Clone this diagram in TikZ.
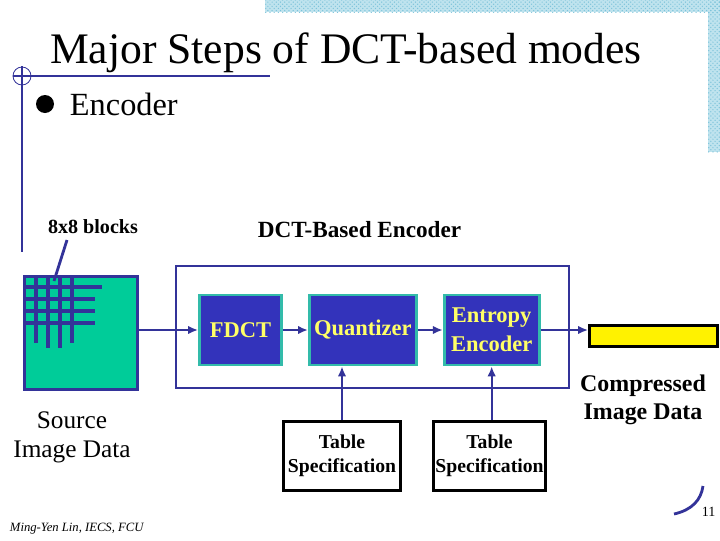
\documentclass[tikz,border=0pt]{standalone}
\usepackage{fontspec}
\setmainfont{Liberation Serif}
\usepackage{xcolor}
\usepackage{tikz}
\usetikzlibrary{positioning, arrows.meta, patterns}
\definecolor{slblue}{HTML}{333399}
\definecolor{slfill}{HTML}{3333BB}
\definecolor{slteal}{HTML}{33BBAA}
\definecolor{srcfill}{HTML}{00CC99}
\definecolor{slyellow}{HTML}{FFFF66}
\definecolor{hatchbg}{HTML}{BFE3EE}
\definecolor{hatchdot}{HTML}{7DC3DA}

\begin{document}
\begin{tikzpicture}[
  x=0.025cm, y=-0.025cm,
  stage/.style={
    rectangle, draw=slteal, fill=slfill, line width=2pt,
    text=slyellow, font=\fontsize{16}{20.5}\selectfont\bfseries,
    minimum width=#1, minimum height=1.75cm, align=center, inner sep=1pt
  },
  tabspec/.style={
    rectangle, draw=black, line width=2pt, minimum width=#1,
    minimum height=1.725cm, align=center, inner sep=1pt,
    font=\fontsize{14}{17}\selectfont\bfseries
  },
  conn/.style={slblue, line width=1.4pt, -{Latex[length=7pt,width=6pt]}},
  gridln/.style={slblue, line width=3pt},
]
\useasboundingbox (0,0) rectangle (720,540);

% slide frame
\fill[hatchbg] (265,0) rectangle (720,12);
\fill[hatchbg] (708,0) rectangle (720,152);
\fill[pattern=crosshatch dots, pattern color=hatchdot] (265,0) rectangle (720,12);
\fill[pattern=crosshatch dots, pattern color=hatchdot] (708,0) rectangle (720,152);
\draw[slblue, line width=1.6pt] (13,76) -- (270,76);
\draw[slblue, line width=0.6pt] (22,76) circle[radius=9];
\draw[slblue, line width=0.8pt] (22,66) -- (22,252);

% title and bullet
\node[anchor=base, font=\fontsize{31}{36}\selectfont] (title) at (346,63) {Major Steps of DCT-based modes};
\fill (45,104) circle[radius=9];
\node[anchor=base west, font=\fontsize{23}{28}\selectfont] (enclbl) at (65,115) {Encoder};

% source image
\node[rectangle, draw=slblue, line width=2pt, fill=srcfill, minimum size=2.825cm] (src) at (81,333) {};
\foreach \yy/\xe in {287/102, 299/95, 311/95, 323/95}
  \draw[gridln] (25,\yy) -- (\xe,\yy);
\foreach \xx/\ye in {36/343, 48/348, 60/348, 72/343}
  \draw[gridln] (\xx,277) -- (\xx,\ye);
\node[font=\fontsize{14.3}{17}\selectfont\bfseries] (blk) at (93,227) {8x8 blocks};
\coordinate (ptrtop) at (67,240);
\coordinate (ptrend) at (54,281);
\draw[slblue, line width=2pt] (ptrtop) -- (ptrend);
\node[align=center, font=\fontsize{18}{20.6}\selectfont] (srclbl) at (72,437) {Source\\Image Data};

% DCT-based encoder
\node[font=\fontsize{16.5}{20}\selectfont\bfseries] (enctitle) at (359.5,230) {DCT-Based Encoder};
\node[rectangle, draw=slblue, line width=2pt, minimum width=9.825cm, minimum height=3.05cm] (enc) at (372.5,327) {};
\node[stage=2.05cm] (fdct) at (240.5,330) {FDCT};
\node[stage=2.675cm, right=0.625cm of fdct] (quant) {Quantizer};
\node[stage=2.375cm, right=0.625cm of quant] (ent) {Entropy\\Encoder};

% output
\node[rectangle, draw=black, line width=2pt, fill=yellow, minimum width=3.2cm, minimum height=0.525cm] (cbar) at (653.5,336) {};
\node[align=center, font=\fontsize{17}{20}\selectfont\bfseries] (cbarlbl) at (643,400) {Compressed\\Image Data};

% table specifications
\node[tabspec=2.925cm] (tab1) at (342,456) {Table\\Specification};
\node[tabspec=2.8cm] (tab2) at (489.5,456) {Table\\Specification};

% connectors
\draw[conn] (src.east |- fdct.west) -- (fdct.west);
\draw[conn] (fdct) -- (quant);
\draw[conn] (quant) -- (ent);
\draw[conn] (ent.east) -- (ent.east -| cbar.west);
\draw[conn] (tab1.north) -- (tab1.north |- quant.south);
\draw[conn] (ent.south |- tab2.north) -- (ent.south);

% footer
\node[anchor=base west, font=\fontsize{9}{11}\selectfont\itshape] (foot) at (5,531) {Ming-Yen Lin, IECS, FCU};
\draw[slblue, line width=2pt] (674,514) .. controls (692,510) and (701,500) .. (703,486);
\node[anchor=base west, font=\fontsize{10}{12}\selectfont] (pgno) at (697,516) {11};

\end{tikzpicture}
\end{document}
